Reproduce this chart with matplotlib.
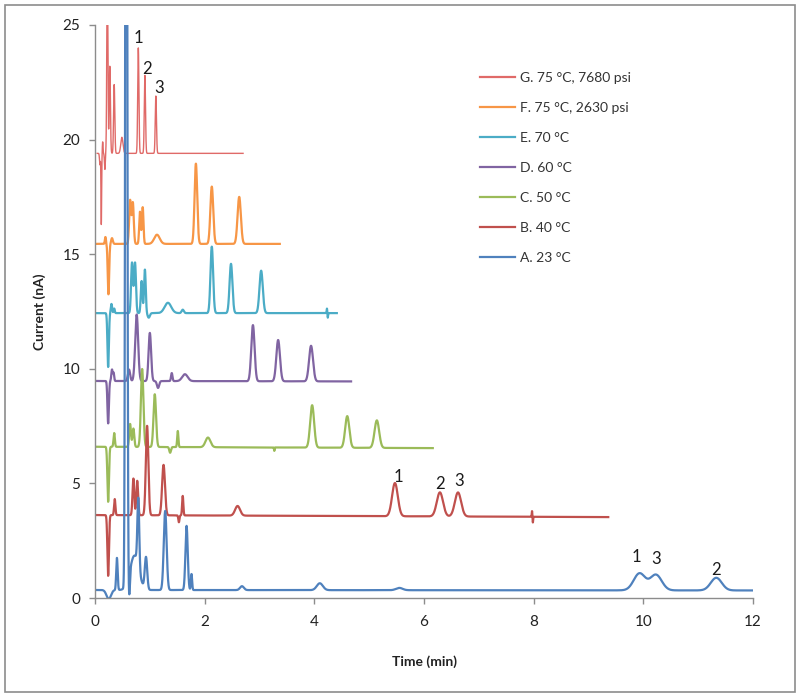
import numpy as np
import matplotlib
matplotlib.use("Agg")
import matplotlib.pyplot as plt
from matplotlib.lines import Line2D
from matplotlib.patches import Rectangle

plt.rcParams['font.family'] = ['Lato', 'DejaVu Sans']

# ---- data: per-trace baseline (start, end), run window and peak tables (time, height, width) ----
series_names = ["G. 75 °C, 7680 psi", "F. 75 °C, 2630 psi", "E. 70 °C", "D. 60 °C",
                "C. 50 °C", "B. 40 °C", "A. 23 °C"]
series_colors = ["#E06A68", "#F79646", "#4BACC6", "#8064A2", "#9BBB59", "#C0504D", "#4F81BD"]
series_lw = [1.0, 1.6, 1.6, 1.6, 1.6, 1.6, 1.6]

G_base = (19.4, 19.4); G_run = (0.04, 2.70)
G_peaks = [(0.09, -0.5, 0.008), (0.115, -3.1, 0.006), (0.14, 0.5, 0.006), (0.18, -0.7, 0.008),
           (0.225, 8.0, 0.010), (0.27, 3.8, 0.011), (0.35, 3.0, 0.011), (0.49, 0.7, 0.020),
           (0.79, 4.6, 0.011), (0.91, 3.4, 0.011), (1.11, 2.5, 0.011)]

F_base = (15.45, 15.45); F_run = (0.0, 3.37)
F_peaks = [(0.19, 0.3, 0.010), (0.245, -2.2, 0.013), (0.31, 0.25, 0.015),
           (0.64, 1.9, 0.017), (0.69, 1.8, 0.017), (0.82, 1.4, 0.014), (0.87, 1.6, 0.014),
           (1.13, 0.4, 0.050), (1.84, 3.5, 0.024), (2.13, 2.5, 0.026), (2.63, 2.05, 0.030)]

E_base = (12.43, 12.43); E_run = (0.0, 4.41)
E_peaks = [(0.24, -2.35, 0.013), (0.30, 0.4, 0.012), (0.35, 0.2, 0.010),
           (0.675, 2.2, 0.017), (0.73, 2.2, 0.017), (0.85, 1.4, 0.015), (0.91, 1.9, 0.015),
           (0.98, -0.2, 0.020), (1.33, 0.45, 0.060), (1.60, 0.15, 0.020),
           (2.13, 2.9, 0.024), (2.48, 2.15, 0.026), (3.03, 1.85, 0.030),
           (4.23, 0.2, 0.005), (4.245, -0.2, 0.005)]

D_base = (9.47, 9.45); D_run = (0.0, 4.67)
D_peaks = [(0.24, -1.85, 0.013), (0.31, 0.5, 0.012), (0.34, 0.35, 0.010), (0.62, 0.5, 0.020),
           (0.76, 2.9, 0.027), (1.00, 2.1, 0.023), (1.15, -0.3, 0.020), (1.40, 0.35, 0.013),
           (1.64, 0.3, 0.050), (2.88, 2.45, 0.030), (3.34, 1.8, 0.033), (3.94, 1.55, 0.036)]

C_base = (6.6, 6.54); C_run = (0.0, 6.16)
C_peaks = [(0.24, -2.4, 0.014), (0.35, 0.6, 0.012), (0.64, 1.0, 0.016), (0.70, 0.8, 0.016),
           (0.86, 3.4, 0.023), (1.09, 2.3, 0.023), (1.37, -0.25, 0.015), (1.51, 0.7, 0.011),
           (2.06, 0.42, 0.045), (3.27, -0.15, 0.005), (3.96, 1.85, 0.036), (4.60, 1.38, 0.038),
           (5.14, 1.2, 0.042)]

B_base = (3.62, 3.53); B_run = (0.0, 9.36)
B_peaks = [(0.24, -2.65, 0.014), (0.36, 0.7, 0.012), (0.70, 1.6, 0.016), (0.77, 1.5, 0.016),
           (0.95, 3.9, 0.023), (1.25, 2.2, 0.026), (1.53, -0.3, 0.010), (1.60, 0.85, 0.011),
           (2.60, 0.42, 0.045), (5.47, 1.45, 0.052), (6.29, 1.05, 0.057), (6.62, 1.05, 0.057),
           (7.97, 0.25, 0.005), (7.985, -0.25, 0.005)]

A_base = (0.35, 0.33); A_run = (0.0, 12.0)
A_peaks = [(0.25, -0.4, 0.040), (0.40, 1.4, 0.013), (0.57, 60.0, 0.015), (0.625, -1.0, 0.012),
           (0.72, 1.5, 0.080), (0.79, 3.0, 0.017), (0.93, 1.4, 0.022), (1.28, 3.45, 0.026),
           (1.67, 2.8, 0.021), (1.76, 0.7, 0.011), (2.68, 0.17, 0.035), (4.10, 0.3, 0.055),
           (5.55, 0.1, 0.060), (9.93, 0.74, 0.105), (10.23, 0.68, 0.105), (11.33, 0.55, 0.100)]

traces = [(G_base, G_run, G_peaks), (F_base, F_run, F_peaks), (E_base, E_run, E_peaks),
          (D_base, D_run, D_peaks), (C_base, C_run, C_peaks), (B_base, B_run, B_peaks),
          (A_base, A_run, A_peaks)]

# peak number annotations: (time, current, text) -- centre of label
peak_labels = [(0.80, 24.43, "1"), (0.95, 23.1, "2"), (1.17, 22.25, "3"),
               (5.53, 5.28, "1"), (6.29, 4.97, "2"), (6.64, 5.1, "3"),
               (9.88, 1.79, "1"), (10.23, 1.70, "3"), (11.33, 1.22, "2")]

x_ticks = [0, 2, 4, 6, 8, 10, 12]
y_ticks = [0, 5, 10, 15, 20, 25]


def chromatogram(base, run, peaks):
    t = np.arange(run[0], run[1] + 1e-9, 0.001)
    y = np.interp(t, [run[0], run[1]], [base[0], base[1]])
    for t0, h, w in peaks:
        y = y + h * np.exp(-0.5 * ((t - t0) / w) ** 2)
    return t, y


fig = plt.figure(figsize=(8.0, 6.97), dpi=100)
ax = fig.add_axes([95 / 800, 1 - 598 / 697, 658 / 800, 573 / 697])

handles = []
for name, col, lw, (base, run, peaks) in zip(series_names, series_colors, series_lw, traces):
    t, y = chromatogram(base, run, peaks)
    ax.plot(t, y, color=col, lw=lw, solid_joinstyle='round')
    handles.append(Line2D([], [], color=col, lw=1.6))

for tx, ty, s in peak_labels:
    ax.text(tx, ty, s, fontsize=12, ha='center', va='center', color='#1a1a1a')

ax.set_xlim(0, 12)
ax.set_ylim(0, 25)
ax.set_xticks(x_ticks)
ax.set_yticks(y_ticks)
for sp in ['top', 'right']:
    ax.spines[sp].set_visible(False)
for sp in ['left', 'bottom']:
    ax.spines[sp].set_color('#8c8c8c')
    ax.spines[sp].set_linewidth(1.0)
ax.tick_params(axis='both', colors='#8c8c8c', labelcolor='#222222', labelsize=11,
               length=4.5, width=1.0, direction='out')
ax.tick_params(axis='x', pad=8)
ax.tick_params(axis='y', pad=6)

ax.set_xlabel("Time (min)", fontsize=10, fontweight='bold', labelpad=19, color='#222222')
ax.set_ylabel("Current (nA)", fontsize=10, fontweight='bold', labelpad=12, color='#222222')

leg = ax.legend(handles, series_names, loc='upper left', bbox_to_anchor=(0.585, 0.918),
                frameon=False, fontsize=10, handlelength=2.5, handletextpad=0.4,
                labelspacing=1.3, borderpad=0, borderaxespad=0)
for txt in leg.get_texts():
    txt.set_color('#333333')

fig.patches.append(Rectangle((5 / 800, 5 / 697), 790 / 800, 687 / 697, transform=fig.transFigure,
                             fill=False, edgecolor='#8c8c8c', lw=1.2))

fig.savefig("out.png", dpi=100)
